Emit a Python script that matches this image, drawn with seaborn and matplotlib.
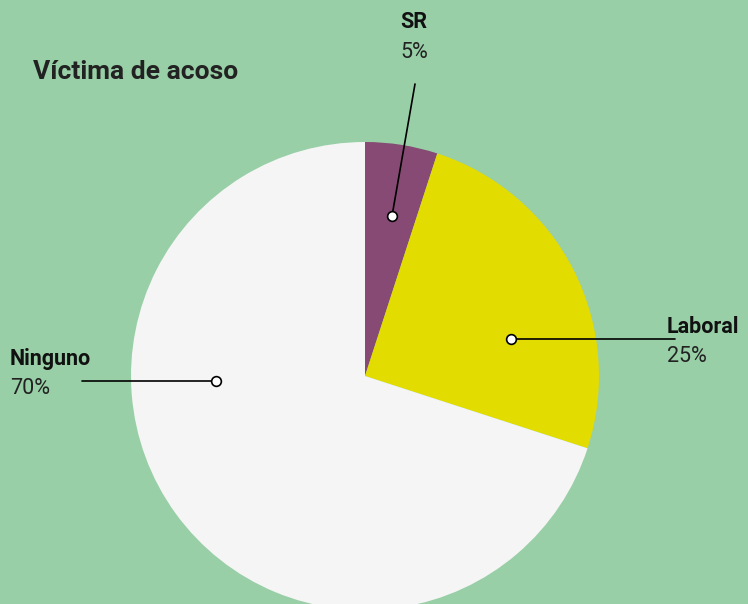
import matplotlib
matplotlib.use("Agg")
import matplotlib.pyplot as plt
import seaborn as sns

categories = ["SR", "Laboral", "Ninguno"]
values = [5, 25, 70]
pct_labels = ["5%", "25%", "70%"]
colors = ["#874A74", "#E3DC00", "#F5F5F5"]
title = "Víctima de acoso"

sns.set_style("white")
plt.rcParams['font.family'] = ['Roboto', 'DejaVu Sans']

BG = "#98CFA6"
W, H = 748, 604
fig = plt.figure(figsize=(W / 100, H / 100), dpi=100, facecolor=BG)
ax = fig.add_axes([0, 0, 1, 1])
ax.set_facecolor(BG)

cx, cy, R = 365, 376, 234

pal = sns.color_palette(colors)
ax.pie(values, colors=pal, startangle=90, counterclock=False,
       radius=1, center=(0, 0), wedgeprops=dict(linewidth=0))

# map pixel coords -> data units (pie radius 1)
ax.set_aspect("equal")
ax.set_xlim(-cx / R, (W - cx) / R)
ax.set_ylim(-(H - cy) / R, cy / R)
ax.axis("off")

def px(x, y):
    return ((x - cx) / R, (cy - y) / R)

# callouts: (dot px, line end px, label px)
callouts = [
    ((392, 216), (415, 84), (400, 22)),
    ((511, 339), (675, 339), (667, 327)),
    ((216, 381), (82, 381), (10, 359)),
]
for (dot, end, lab), cat, pct in zip(callouts, categories, pct_labels):
    d = px(*dot); e = px(*end)
    ax.plot([d[0], e[0]], [d[1], e[1]], color="black", lw=1.2, zorder=3)
    ax.plot(*d, marker="o", ms=7, mfc="white", mec="black", mew=1.2, zorder=4)
    l = px(*lab)
    ax.text(l[0], l[1], cat, fontsize=15.5, fontweight="bold", color="#111111",
            ha="left", va="center")
    l2 = px(lab[0], lab[1] + 30)
    ax.text(l2[0], l2[1], pct, fontsize=15.5, fontweight="normal", color="#222222",
            ha="left", va="center")

t = px(33, 72)
ax.text(t[0], t[1], title, fontsize=19, fontweight="bold", color="#222222",
        ha="left", va="center")

fig.savefig("out.png", dpi=100, facecolor=BG)
